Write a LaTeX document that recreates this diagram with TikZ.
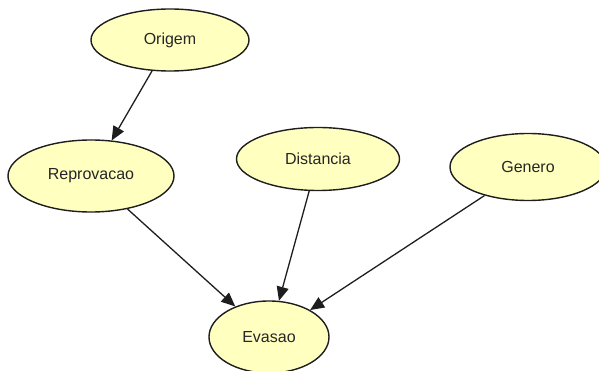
\documentclass[tikz,border=0pt]{standalone}
\usepackage{fontspec}
\setmainfont{Liberation Sans}
\usetikzlibrary{shapes.geometric,arrows.meta}
\definecolor{nodefill}{RGB}{255,255,192}
\definecolor{edgecol}{RGB}{30,30,30}
\tikzset{
  var/.style={ellipse, draw=edgecol, line width=1.4pt, fill=nodefill, inner sep=0pt,
    font=\fontsize{16}{18}\selectfont, text=black!85},
  link/.style={draw=edgecol, line width=1.3pt, -{Triangle[length=14pt,width=12pt]}}
}
\begin{document}
\begin{tikzpicture}[x=1pt,y=-1pt]
\useasboundingbox (0,0) rectangle (599,371);
\clip (0,0) rectangle (599,371);
\node[var, minimum width=158pt, minimum height=62pt] (origem) at (170,40) {Origem};
\node[var, minimum width=166pt, minimum height=72pt] (reprov) at (91,176) {Reprovacao};
\node[var, minimum width=163pt, minimum height=63pt] (dist) at (318,159) {Distancia};
\node[var, minimum width=156pt, minimum height=67pt] (genero) at (528,167) {Genero};
\node[var, minimum width=120pt, minimum height=72pt] (evasao) at (269,337) {Evasao};
\draw[link] (origem) -- (reprov);
\draw[link] (reprov) -- (evasao);
\draw[link] (dist) -- (evasao);
\draw[link] (genero) -- (evasao);
\end{tikzpicture}
\end{document}
